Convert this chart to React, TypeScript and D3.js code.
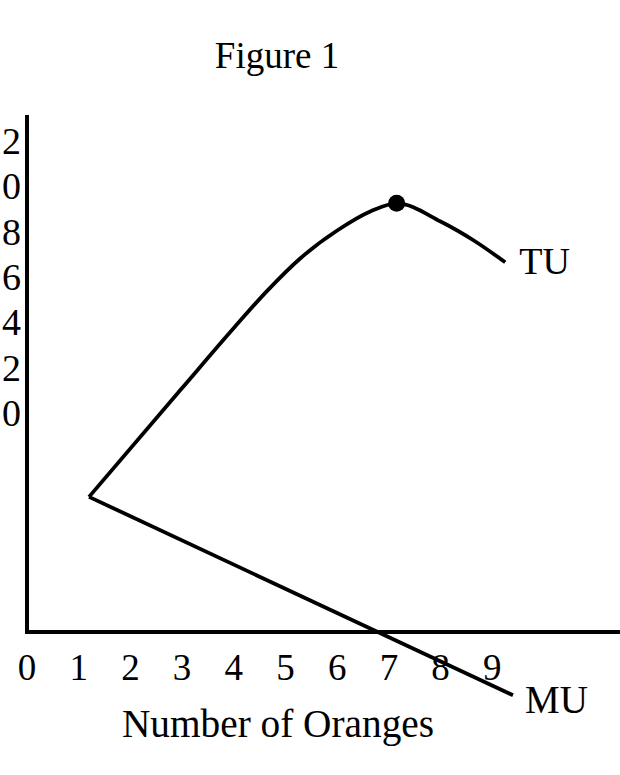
import React, { useEffect, useRef } from 'react';
import * as d3 from 'd3';

// values
const xTicks = [0, 1, 2, 3, 4, 5, 6, 7, 8, 9];
const yTicks = [0, 2, 4, 6, 8, 10, 12];

const tuOranges = [1.2, 3.0, 4.0, 4.65, 5.3, 6.0, 6.65, 7.15, 8.0, 8.65, 9.25];
const tuUtility = [-3.7, 1.1, 3.75, 5.4, 6.85, 8.05, 8.9, 9.25, 8.45, 7.6, 6.65];

const muOranges = [1.2, 9.4];
const muUtility = [-3.7, -12.45];

const peakIndex = 7;

const WIDTH = 620;
const HEIGHT = 775;
const FONT = '"Liberation Serif", "Times New Roman", serif';

export default function App() {
    const ref = useRef<SVGSVGElement>(null);

    useEffect(() => {
        const svg = d3.select(ref.current);
        svg.selectAll('*').remove();

        const x = d3.scaleLinear().domain([0, 10]).range([27, 544]);
        const y = d3.scaleLinear().domain([0, 12]).range([413, 141]);

        const yBottom = -9.66;
        const yTop = 13.15;
        const xEnd = 11.6;

        svg.append('text')
            .attr('x', 277)
            .attr('y', 68)
            .attr('text-anchor', 'middle')
            .attr('font-family', FONT)
            .attr('font-size', 37)
            .text('Figure 1');

        // axes as one corner path
        svg.append('path')
            .attr('d', `M${x(0)},${y(yTop)} L${x(0)},${y(yBottom)} L${x(xEnd)},${y(yBottom)}`)
            .attr('fill', 'none')
            .attr('stroke', '#000')
            .attr('stroke-width', 4)
            .attr('stroke-linejoin', 'miter');

        svg.append('g')
            .selectAll('text')
            .data(yTicks)
            .enter()
            .append('text')
            .attr('x', 21)
            .attr('y', d => y(d) + 13)
            .attr('text-anchor', 'end')
            .attr('font-family', FONT)
            .attr('font-size', 38)
            .text(d => d);

        svg.append('g')
            .selectAll('text')
            .data(xTicks)
            .enter()
            .append('text')
            .attr('x', d => x(d))
            .attr('y', 680)
            .attr('text-anchor', 'middle')
            .attr('font-family', FONT)
            .attr('font-size', 37)
            .text(d => d);

        svg.append('text')
            .attr('x', 278)
            .attr('y', 737)
            .attr('text-anchor', 'middle')
            .attr('font-family', FONT)
            .attr('font-size', 39.3)
            .text('Number of Oranges');

        const tu = tuOranges.map((o, i) => [o, tuUtility[i]] as [number, number]);
        const mu = muOranges.map((o, i) => [o, muUtility[i]] as [number, number]);

        const line = d3.line<[number, number]>()
            .x(d => x(d[0]))
            .y(d => y(d[1]));

        svg.append('path')
            .attr('d', line.curve(d3.curveMonotoneX)(tu))
            .attr('fill', 'none')
            .attr('stroke', '#000')
            .attr('stroke-width', 3.8);

        svg.append('path')
            .attr('d', line.curve(d3.curveLinear)(mu))
            .attr('fill', 'none')
            .attr('stroke', '#000')
            .attr('stroke-width', 3.8);

        svg.append('circle')
            .attr('cx', x(tu[peakIndex][0]))
            .attr('cy', y(tu[peakIndex][1]))
            .attr('r', 8.5)
            .attr('fill', '#000');

        const tuEnd = tu[tu.length - 1];
        svg.append('text')
            .attr('x', x(tuEnd[0]) + 14)
            .attr('y', y(tuEnd[1]) + 12)
            .attr('font-family', FONT)
            .attr('font-size', 38)
            .text('TU');

        const muEnd = mu[mu.length - 1];
        svg.append('text')
            .attr('x', x(muEnd[0]) + 12)
            .attr('y', y(muEnd[1]) + 18)
            .attr('font-family', FONT)
            .attr('font-size', 39)
            .text('MU');
    }, []);

    return (
        <svg
            ref={ref}
            width={WIDTH}
            height={HEIGHT}
            style={{ position: 'absolute', left: 0, top: 0, background: '#fff' }}
        />
    );
}
